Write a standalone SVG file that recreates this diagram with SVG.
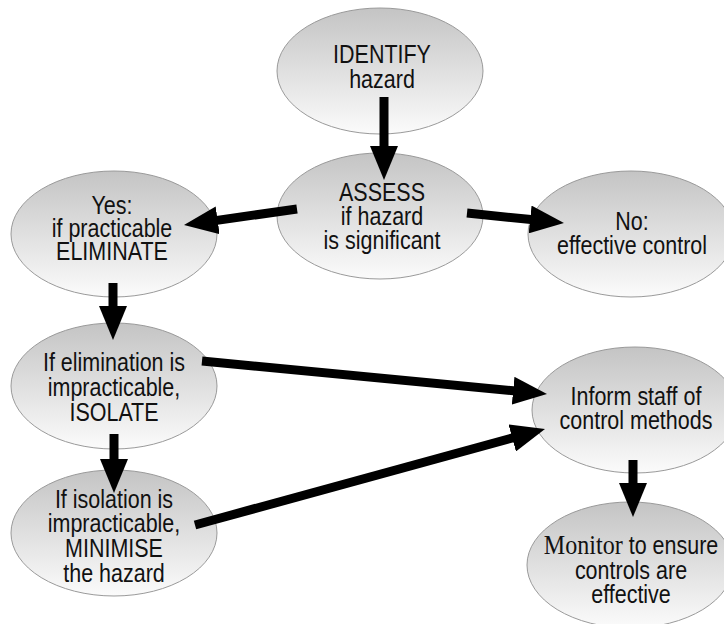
<svg xmlns="http://www.w3.org/2000/svg" width="724" height="624" viewBox="0 0 724 624">
  <defs>
    <linearGradient id="g" x1="0" y1="0" x2="0" y2="1">
      <stop offset="0" stop-color="#c4c4c4"/>
      <stop offset="1" stop-color="#fbfbfb"/>
    </linearGradient>
    <marker id="ah" markerUnits="userSpaceOnUse" markerWidth="34" markerHeight="28" viewBox="0 0 34 28" refX="6" refY="14" orient="auto">
      <path d="M0,0 L34,14 L0,28 Z" fill="#000"/>
    </marker>
  </defs>
  <style>
    .n ellipse { fill: url(#g); stroke: #9a9a9a; stroke-width: 1; }
    .n text { font-family: "Liberation Sans Narrow", "Liberation Sans", Arial, sans-serif; font-size: 25px; fill: #111; text-anchor: middle; }
    .serif { font-family: "Liberation Serif", serif; font-size: 28px; }
    #connectors line { stroke: #000; stroke-width: 9; marker-end: url(#ah); }
  </style>
  <rect width="724" height="624" fill="#fff"/>
  <g id="identify" class="n">
    <ellipse cx="380" cy="71" rx="103" ry="63"/>
    <text transform="translate(382 0) scale(0.86 1)"><tspan x="0" y="63">IDENTIFY</tspan><tspan x="0" y="88">hazard</tspan></text>
  </g>
  <g id="assess" class="n">
    <ellipse cx="380" cy="216" rx="103" ry="63"/>
    <text transform="translate(382 0) scale(0.86 1)"><tspan x="0" y="201">ASSESS</tspan><tspan x="0" y="225">if hazard</tspan><tspan x="0" y="249">is significant</tspan></text>
  </g>
  <g id="eliminate" class="n">
    <ellipse cx="114" cy="234" rx="103" ry="63"/>
    <text transform="translate(112 0) scale(0.86 1)"><tspan x="0" y="214">Yes:</tspan><tspan x="0" y="237">if practicable</tspan><tspan x="0" y="260">ELIMINATE</tspan></text>
  </g>
  <g id="no" class="n">
    <ellipse cx="631" cy="234" rx="103" ry="63"/>
    <text transform="translate(632 0) scale(0.86 1)"><tspan x="0" y="230">No:</tspan><tspan x="0" y="254">effective control</tspan></text>
  </g>
  <g id="isolate" class="n">
    <ellipse cx="114" cy="386" rx="103" ry="63"/>
    <text transform="translate(114 0) scale(0.86 1)"><tspan x="0" y="371">If elimination is</tspan><tspan x="0" y="396">impracticable,</tspan><tspan x="0" y="421">ISOLATE</tspan></text>
  </g>
  <g id="minimise" class="n">
    <ellipse cx="114" cy="533" rx="103" ry="63"/>
    <text transform="translate(114 0) scale(0.86 1)"><tspan x="0" y="508">If isolation is</tspan><tspan x="0" y="532">impracticable,</tspan><tspan x="0" y="557">MINIMISE</tspan><tspan x="0" y="582">the hazard</tspan></text>
  </g>
  <g id="inform" class="n">
    <ellipse cx="635" cy="410" rx="103" ry="63"/>
    <text transform="translate(636 0) scale(0.86 1)"><tspan x="0" y="405">Inform staff of</tspan><tspan x="0" y="429">control methods</tspan></text>
  </g>
  <g id="monitor" class="n">
    <ellipse cx="630" cy="565" rx="103" ry="63"/>
    <text transform="translate(631 0) scale(0.86 1)"><tspan x="0" y="554"><tspan class="serif">Monitor</tspan> to ensure</tspan><tspan x="0" y="579">controls are</tspan><tspan x="0" y="603">effective</tspan></text>
  </g>
  <g id="connectors">
    <line x1="384" y1="97" x2="384" y2="152"/>
    <line x1="297" y1="209" x2="211.7" y2="221.1"/>
    <line x1="467" y1="213" x2="536.1" y2="220.1"/>
    <line x1="113" y1="283" x2="113" y2="312"/>
    <line x1="114" y1="434" x2="114" y2="465"/>
    <line x1="202" y1="361" x2="519.1" y2="391.3"/>
    <line x1="195" y1="525" x2="518" y2="436.4"/>
    <line x1="633" y1="460" x2="633" y2="489"/>
  </g>
</svg>
